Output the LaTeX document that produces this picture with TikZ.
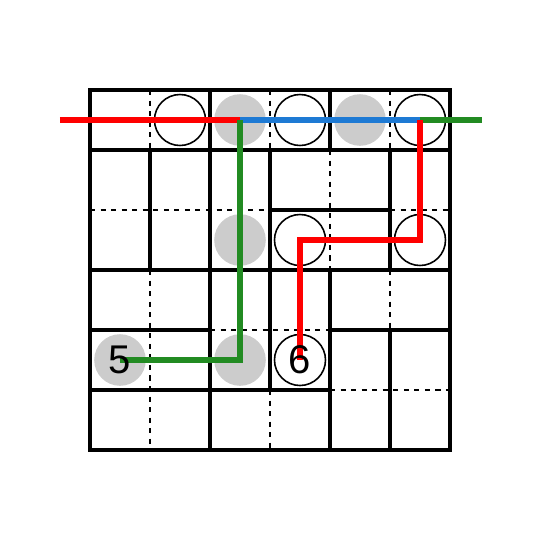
\documentclass[tikz,border=0pt]{standalone}
\usepackage{tikz}
\usepackage{xcolor}
\usepackage{fontspec}
\setsansfont{Liberation Sans}
\usetikzlibrary{positioning}
\definecolor{pathRed}{RGB}{255,0,0}
\definecolor{pathBlue}{RGB}{30,122,212}
\definecolor{pathGreen}{RGB}{34,139,34}
\definecolor{stoneGray}{RGB}{204,204,204}

\begin{document}
\begin{tikzpicture}[
        wall/.style={line width=2.1pt, line cap=rect},
        seam/.style={line width=0.7pt, dash pattern=on 2.4pt off 2.6pt},
        blackstone/.style={circle, fill=stoneGray, minimum size=0.86cm, inner sep=0pt},
        whitestone/.style={circle, draw, line width=0.75pt, minimum size=0.85cm, inner sep=0pt},
        route/.style={draw=#1, line width=2.4pt},
        num/.style={font=\sffamily\fontsize{19}{19}\selectfont, inner sep=0pt}
      ]
        \useasboundingbox (-1.5,1.5) rectangle (7.5,-7.5);
        % stones
        \node[whitestone] (w10) at (1.5,-0.5) {};
        \node[blackstone] (g20) at (2.5,-0.5) {};
        \node[whitestone] (w30) at (3.5,-0.5) {};
        \node[blackstone] (g40) at (4.5,-0.5) {};
        \node[whitestone] (w50) at (5.5,-0.5) {};
        \node[blackstone] (g22) at (2.5,-2.5) {};
        \node[whitestone] (w32) at (3.5,-2.5) {};
        \node[whitestone] (w52) at (5.5,-2.5) {};
        \node[blackstone] (g04) at (0.5,-4.5) {};
        \node[blackstone] (g24) at (2.5,-4.5) {};
        \node[whitestone] (w34) at (3.5,-4.5) {};
        % dashed seams inside dominoes
        \draw[seam] (1,0) -- (1,-1);  \draw[seam] (3,0) -- (3,-1);
        \draw[seam] (5,0) -- (5,-1);  \draw[seam] (4,-1) -- (4,-3);
        \draw[seam] (1,-3) -- (1,-6); \draw[seam] (5,-3) -- (5,-4);
        \draw[seam] (3,-5) -- (3,-6);
        \draw[seam] (0,-2) -- (3,-2); \draw[seam] (5,-2) -- (6,-2);
        \draw[seam] (2,-4) -- (4,-4); \draw[seam] (4,-5) -- (6,-5);
        % domino walls
        \draw[wall] (0,0) rectangle (6,-6);
        \draw[wall] (0,-1) -- (6,-1); \draw[wall] (0,-3) -- (6,-3);
        \draw[wall] (3,-2) -- (5,-2);
        \draw[wall] (0,-4) -- (2,-4); \draw[wall] (4,-4) -- (6,-4);
        \draw[wall] (0,-5) -- (4,-5);
        \draw[wall] (1,-1) -- (1,-3); \draw[wall] (2,0) -- (2,-6);
        \draw[wall] (3,-1) -- (3,-5);
        \draw[wall] (4,0) -- (4,-1); \draw[wall] (4,-3) -- (4,-6);
        \draw[wall] (5,-1) -- (5,-3); \draw[wall] (5,-4) -- (5,-6);
        % routes
        \coordinate (inL)  at (-0.5,-0.5);
        \coordinate (outR) at (6.53,-0.5);
        \draw[route=pathRed]   (inL) -- (g20.center);
        \draw[route=pathBlue]  (g20.center) -- (w50.center);
        \draw[route=pathGreen] (w50.center) -- (outR);
        \draw[route=pathGreen] (g20.center) -- (g24.center) -- (g04.center);
        \draw[route=pathRed]   (w50.center) -- (w52.center) -- (w32.center) -- (w34.center);
        \node[num] (lab5) at (g04) {5};
        \node[num] (lab6) at (w34) {6};
      \end{tikzpicture}
\end{document}
